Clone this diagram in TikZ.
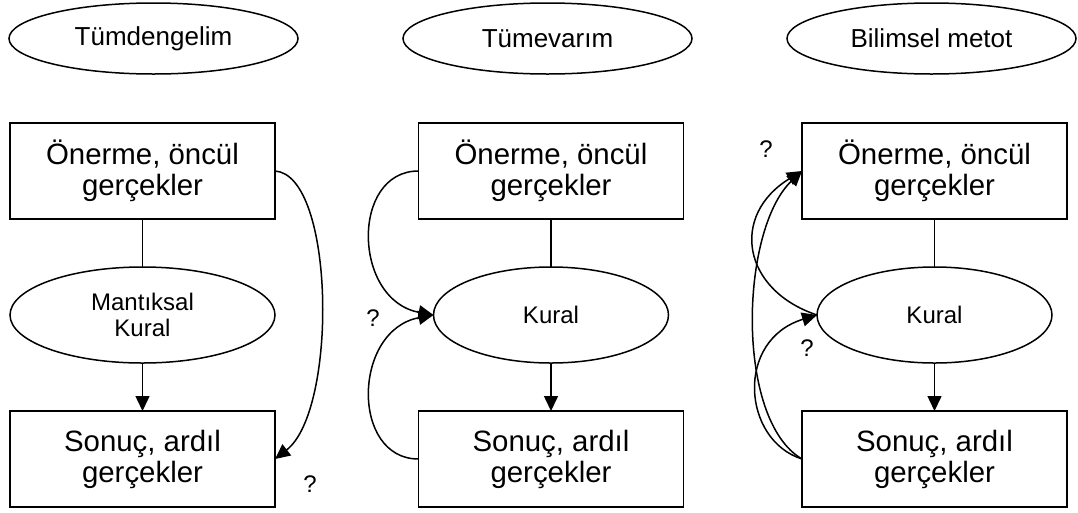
\documentclass[tikz,border=0pt]{standalone}
\usepackage{fontspec}
\setmainfont{Liberation Sans}
\usetikzlibrary{shapes.geometric,arrows.meta}
\begin{document}
\begin{tikzpicture}[x=1pt,y=-1pt,
  every node/.style={inner sep=0pt, outer sep=0pt},
  fact/.style={draw, line width=1.5pt, minimum width=265pt, minimum height=96pt,
    align=center, font=\fontsize{29.4}{31}\selectfont},
  rule/.style={draw, ellipse, line width=1.5pt, minimum height=96pt,
    align=center, font=\fontsize{24}{26.5}\selectfont},
  title/.style={draw, ellipse, line width=1.5pt, minimum width=289pt,
    minimum height=71pt, font=\fontsize{26}{30}\selectfont},
  qmark/.style={font=\fontsize{24}{28}\selectfont},
  link/.style={line width=1.5pt},
  flow/.style={link, -{Triangle[length=15pt,width=14pt]}},
]
\useasboundingbox (0,0) rectangle (1078,512);

% method names
\node[title] (h1) at (153.5,38.5) {Tümdengelim};
\node[title] (h2) at (547.5,38.5) {Tümevarım};
\node[title] (h3) at (931.5,38.5) {Bilimsel metot};

% deduction
\node[fact] (t1) at (142.5,171) {Önerme, öncül\\gerçekler};
\node[rule, minimum width=265pt] (k1) at (142.5,315) {Mantıksal\\Kural};
\node[fact] (b1) at (142.5,459) {Sonuç, ardıl\\gerçekler};
\draw[link] (t1.south) -- (k1.north);
\draw[flow] (k1.south) -- (b1.north);
\draw[flow] (t1.east) .. controls +(60,4) and +(63,-49) .. (b1.east);
\node[qmark] (q1) at (310,484.5) {?};

% induction
\node[fact] (t2) at (551,171) {Önerme, öncül\\gerçekler};
\node[rule, minimum width=235pt] (k2) at (551,315) {Kural};
\node[fact] (b2) at (551,459) {Sonuç, ardıl\\gerçekler};
\draw[link] (t2.south) -- (k2.north);
\draw[flow] (k2.south) -- (b2.north);
\draw[flow] (t2.west) .. controls +(-68,0) and +(-81,-15) .. (k2.west);
\draw[flow] (b2.west) .. controls +(-68,0) and +(-81,15) .. (k2.west);
\node[qmark] (q2) at (373,318) {?};

% scientific method
\node[fact] (t3) at (934.5,171) {Önerme, öncül\\gerçekler};
\node[rule, minimum width=235pt] (k3) at (934.5,315) {Kural};
\node[fact] (b3) at (934.5,459) {Sonuç, ardıl\\gerçekler};
\draw[link] (t3.south) -- (k3.north);
\draw[flow] (k3.south) -- (b3.north);
\draw[flow] (k3.west) .. controls +(-75,-25) and +(-72,44) .. (t3.west);
\draw[flow] (b3.west) .. controls +(-67,-39) and +(-62,59) .. (t3.west);
\draw[flow] (b3.west) .. controls +(-60,-19) and +(-82,25) .. (k3.west);
\node[qmark] (q3) at (766,149) {?};
\node[qmark] (q4) at (807,348.5) {?};
\end{tikzpicture}
\end{document}
